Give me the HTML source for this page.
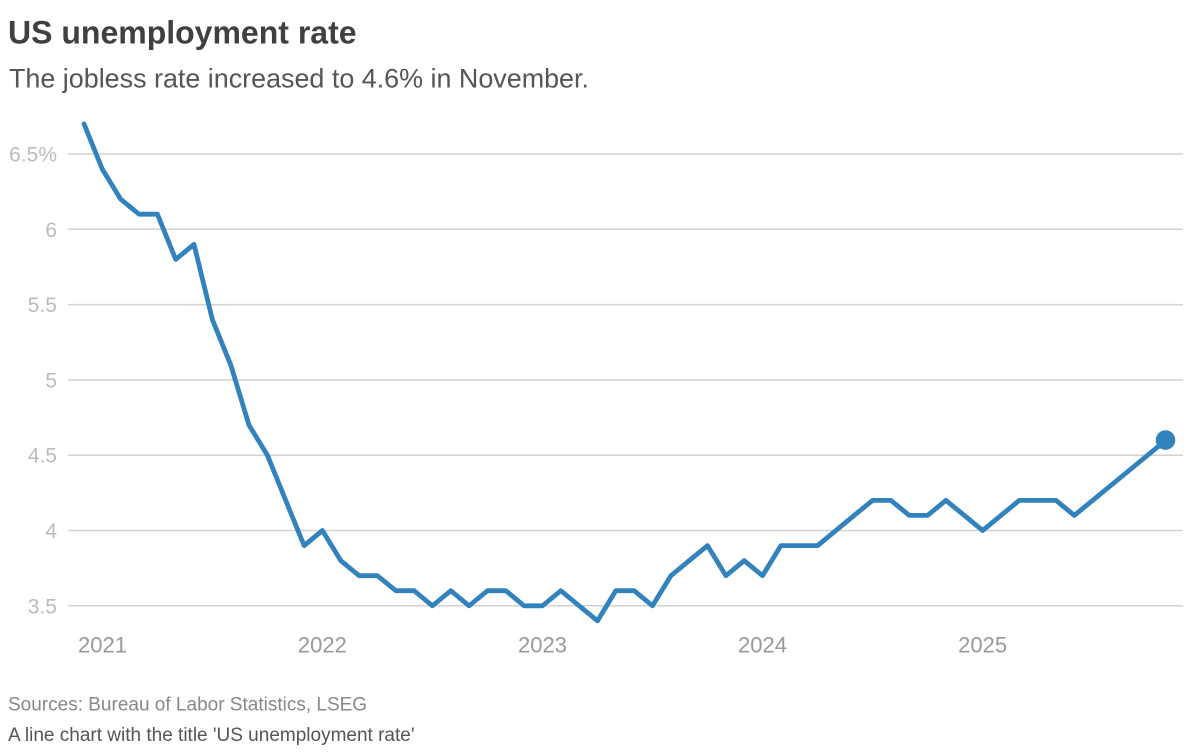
<!DOCTYPE html>
<html>
<head>
<meta charset="utf-8">
<style>
  html, body { margin: 0; padding: 0; background: #fff; }
  body { width: 1200px; height: 755px; overflow: hidden; }
  svg { display: block; }
  text { font-family: "Liberation Sans", Arial, sans-serif; }
</style>
</head>
<body>
<svg width="1200" height="755" viewBox="0 0 1200 755" xmlns="http://www.w3.org/2000/svg">
  <rect width="1200" height="755" fill="#ffffff"/>

  <!-- Title & subtitle -->
  <text x="8" y="43.5" font-size="32" font-weight="bold" fill="#404040">US unemployment rate</text>
  <text x="9" y="87.3" font-size="26.9" fill="#555555">The jobless rate increased to 4.6% in November.</text>

  <!-- Gridlines -->
  <g stroke="#d2d2d2" stroke-width="1.5">
    <line x1="68" y1="154" x2="1183" y2="154"/>
    <line x1="68" y1="229.3" x2="1183" y2="229.3"/>
    <line x1="68" y1="304.6" x2="1183" y2="304.6"/>
    <line x1="68" y1="379.9" x2="1183" y2="379.9"/>
    <line x1="68" y1="455.2" x2="1183" y2="455.2"/>
    <line x1="68" y1="530.5" x2="1183" y2="530.5"/>
    <line x1="68" y1="605.8" x2="1183" y2="605.8"/>
  </g>

  <!-- Y labels -->
  <g font-size="21" fill="#bbbbbb" text-anchor="end">
    <text x="57" y="161.5">6.5%</text>
    <text x="57" y="236.8">6</text>
    <text x="57" y="312.1">5.5</text>
    <text x="57" y="387.4">5</text>
    <text x="57" y="462.7">4.5</text>
    <text x="57" y="538">4</text>
    <text x="57" y="613.3">3.5</text>
  </g>

  <!-- X labels -->
  <g font-size="22" fill="#999999" text-anchor="middle">
    <text x="102.5" y="652.5">2021</text>
    <text x="322.4" y="652.5">2022</text>
    <text x="542.5" y="652.5">2023</text>
    <text x="762.5" y="652.5">2024</text>
    <text x="982.6" y="652.5">2025</text>
  </g>

  <!-- Series -->
  <polyline fill="none" stroke="#3282bd" stroke-width="4.8" stroke-linejoin="round" stroke-linecap="round"
    points="84,123.9 102.3,169.1 120.7,199.2 139,214.2 157.4,214.2 175.7,259.4 194,244.4 212.4,319.7 230.7,364.8 249,425.1 267.4,455.2 285.7,500.4 304.1,545.6 322.4,530.5 340.8,560.6 359.1,575.7 377.4,575.7 395.8,590.7 414.1,590.7 432.4,605.8 450.8,590.7 469.1,605.8 487.5,590.7 505.8,590.7 524.1,605.8 542.5,605.8 560.8,590.7 579.2,605.8 597.5,620.9 615.8,590.7 634.2,590.7 652.5,605.8 670.9,575.7 689.2,560.6 707.5,545.6 725.9,575.7 744.2,560.6 762.5,575.7 780.9,545.6 799.2,545.6 817.6,545.6 835.9,530.5 854.2,515.4 872.6,500.4 890.9,500.4 909.3,515.4 927.6,515.4 945.9,500.4 964.3,515.4 982.6,530.5 1001,515.4 1019.3,500.4 1037.6,500.4 1056,500.4 1074.3,515.4 1092.7,500.4 1111,485.3 1129.3,470.3 1166,440.1"/>
  <circle cx="1165.5" cy="440.1" r="9.8" fill="#3282bd"/>

  <!-- Footer -->
  <text x="8" y="710.7" font-size="19" fill="#888888">Sources: Bureau of Labor Statistics, LSEG</text>
  <text x="8" y="741" font-size="19" fill="#555555">A line chart with the title 'US unemployment rate'</text>
</svg>
</body>
</html>
